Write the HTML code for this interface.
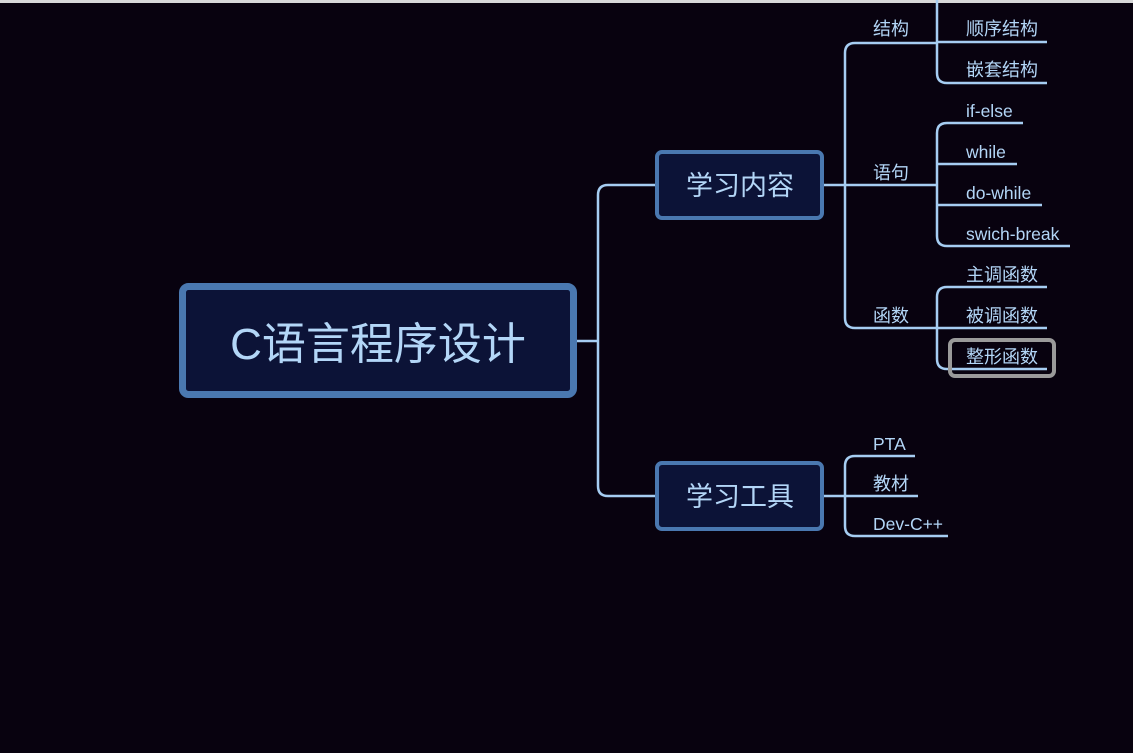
<!DOCTYPE html>
<html><head><meta charset="utf-8"><style>
html,body{margin:0;padding:0;background:#08020f;width:1133px;height:753px;overflow:hidden}
svg text{font-family:"Liberation Sans","Noto Sans CJK SC",sans-serif;fill:#b3d6f7}
</style></head><body>
<svg width="1133" height="753" xmlns="http://www.w3.org/2000/svg">
<rect x="0" y="0" width="1133" height="3" fill="#d8d8d8"/>
<g fill="none" stroke="#a6cdf2" stroke-width="2.5">
<path d="M577 341 H598"/>
<path d="M655 185 H608 Q598 185 598 195 V486 Q598 496 608 496 H655"/>
<path d="M824 185 H845"/>
<path d="M937 43 H855 Q845 43 845 53 V318 Q845 328 855 328 H937"/>
<path d="M845 185 H937"/>
<path d="M937 -10 V73 Q937 83 947 83 H1047"/>
<path d="M937 42 H1047"/>
<path d="M1023 123 H947 Q937 123 937 133 V236 Q937 246 947 246 H1070"/>
<path d="M937 164 H1017"/>
<path d="M937 205 H1042"/>
<path d="M1047 287 H947 Q937 287 937 297 V359 Q937 369 947 369 H1047"/>
<path d="M937 328 H1047"/>
<path d="M824 496 H845"/>
<path d="M915 456 H855 Q845 456 845 466 V526 Q845 536 855 536 H948"/>
<path d="M845 496 H918"/>
</g>
<rect x="182.5" y="286.5" width="391" height="108" rx="6" fill="#0c1337" stroke="#4a78b0" stroke-width="7"/>
<text x="378" y="359" font-size="44" text-anchor="middle">C语言程序设计</text>
<rect x="657" y="152" width="165" height="66" rx="5" fill="#0c1337" stroke="#4a78b0" stroke-width="4"/>
<text x="740" y="195" font-size="27" text-anchor="middle">学习内容</text>
<rect x="657" y="463" width="165" height="66" rx="5" fill="#0c1337" stroke="#4a78b0" stroke-width="4"/>
<text x="740" y="506" font-size="27" text-anchor="middle">学习工具</text>
<rect x="950" y="340" width="104" height="36" rx="5" fill="none" stroke="#9a9a9a" stroke-width="4"/>
<g font-size="18">
<text x="873" y="35">结构</text>
<text x="873" y="179">语句</text>
<text x="873" y="322">函数</text>
<text x="966" y="35">顺序结构</text>
<text x="966" y="76">嵌套结构</text>
<text x="966" y="363">整形函数</text>
<text x="966" y="281">主调函数</text>
<text x="966" y="322">被调函数</text>
<text x="873" y="490">教材</text>
</g>
<g font-size="17.5">
<text x="966" y="117">if-else</text>
<text x="966" y="158">while</text>
<text x="966" y="199">do-while</text>
<text x="966" y="240">swich-break</text>
<text x="873" y="450">PTA</text>
<text x="873" y="530">Dev-C++</text>
</g>
</svg>
</body></html>
